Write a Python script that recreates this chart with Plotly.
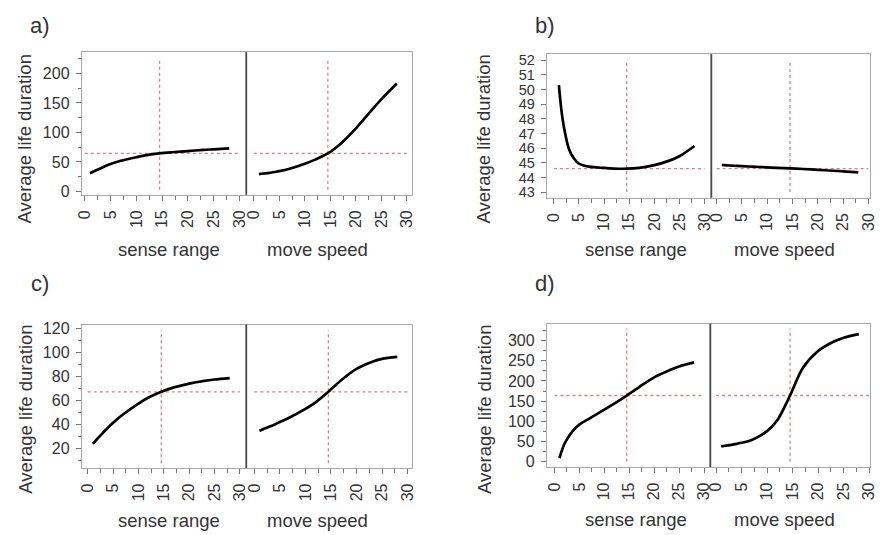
import plotly.graph_objects as go

# ---------------- data ----------------
x_grid = [1, 1.5, 2, 3, 4, 5, 7, 10, 12, 14.5, 17, 20, 23, 25, 28]

a_sense = [31, 33, 35, 39, 43, 46.5, 52, 58, 61.5, 64.5, 66.5, 68.5, 70.5, 71.5, 73]
a_move = [29.5, 30, 30.5, 31.5, 33, 34.5, 38.5, 47, 54, 64.5, 81, 107, 137, 156.5, 183]

b_sense = [50.3, 48.6, 47.45, 45.95, 45.3, 44.95, 44.74, 44.65, 44.61, 44.6, 44.66, 44.84, 45.15, 45.45, 46.15]
b_move = [44.85, 44.84, 44.83, 44.81, 44.79, 44.77, 44.74, 44.69, 44.66, 44.62, 44.58, 44.52, 44.46, 44.42, 44.35]

c_sense = [23.8, 26.2, 28.5, 33, 37.5, 41.5, 48.5, 57.5, 62.5, 67.3, 71, 74.2, 76.5, 77.6, 78.8]
c_move = [34.8, 35.6, 36.5, 38.2, 40, 42, 46, 53, 58.5, 67.3, 77, 86.5, 92.3, 94.8, 96.5]

d_sense = [9, 28, 44, 65, 81, 92, 107, 129, 144, 164, 185, 209, 226, 236, 246]
d_move = [38, 39, 40, 42, 44.5, 47, 54, 76, 103, 164, 232, 274, 297, 307, 316]

panel_labels = ["a)", "b)", "c)", "d)"]
factor_names = ["sense range", "move speed"]
y_title = "Average life duration"

center_x = 14.5
center_y = [64.5, 44.6, 67.3, 164]
vline_extent = [[3, 226], [43, 52], [7.6, 118.7], [0, 330]]
hline_extent = [0, 30]

y_ranges = [[-5.5, 236], [42.62, 52.42], [3.5, 123.6], [-13.1, 342.1]]
y_dtick = [50, 1, 20, 50]
y_minor = [25, None, 10, 25]
y_tick0 = [0, 43, 20, 0]
y_font = [16, 14.5, 16, 16]

x_ticks = [0, 5, 10, 15, 20, 25, 30]

# ---------------- layout geometry (pixels) ----------------
W, H = 884, 535
# (left, divider, right, top, bottom)
boxes = [
    (77, 244, 412, 49, 194),
    (549, 716, 877, 51, 197),
    (77, 244, 412, 326, 472),
    (549, 715, 877, 325, 471),
]
x_ranges = [
    ([-0.57, 31.34], [-1.45, 30.97]),
    ([-1.38, 31.38], [-1.03, 30.33]),
    ([-1.17, 31.30], [-1.55, 30.86]),
    ([-1.50, 31.29], [-1.10, 30.19]),
]
label_pos = [(34, 22), (547, 22), (35, 284), (547, 284)]
ytitle_pos = [(19, 137), (485, 137), (19, 412), (485, 412)]
xtitle_y = [250, 250, 525, 524]
xtitle_x = [(165, 316), (639, 790), (165, 316), (639, 790)]

FONT = "Liberation Sans, Arial, Helvetica, sans-serif"
TXT = "#333333"
FRAME = "#a8a8a8"
DIV = "#4a4a4a"
REF = "#dc7d8c"

fig = go.Figure()
series = [(a_sense, a_move), (b_sense, b_move), (c_sense, c_move), (d_sense, d_move)]

def px_x(p):
    return p / W

def px_y(p):
    return 1 - p / H

layout = {}
shapes = []
annotations = []

for i in range(4):
    left, div, right, top, bottom = boxes[i]
    for j in range(2):
        k = 2 * i + j + 1
        xa = "x" if k == 1 else f"x{k}"
        ya = "y" if k == 1 else f"y{k}"
        xkey = "xaxis" if k == 1 else f"xaxis{k}"
        ykey = "yaxis" if k == 1 else f"yaxis{k}"
        xd = [px_x(left), px_x(div)] if j == 0 else [px_x(div), px_x(right)]
        yd = [px_y(bottom), px_y(top)]

        # reference lines
        fig.add_trace(go.Scatter(x=hline_extent, y=[center_y[i], center_y[i]], mode="lines",
                                 line=dict(color=REF, width=1.3, dash="dot"),
                                 xaxis=xa, yaxis=ya, showlegend=False, hoverinfo="skip"))
        fig.add_trace(go.Scatter(x=[center_x, center_x], y=vline_extent[i], mode="lines",
                                 line=dict(color=REF, width=1.3, dash="dot"),
                                 xaxis=xa, yaxis=ya, showlegend=False, hoverinfo="skip"))
        # profile curve
        fig.add_trace(go.Scatter(x=x_grid, y=series[i][j], mode="lines",
                                 line=dict(color="black", width=2.7, shape="spline", smoothing=0.9),
                                 xaxis=xa, yaxis=ya, showlegend=False))

        layout[xkey] = dict(domain=xd, anchor=ya, range=x_ranges[i][j],
                            tickmode="array", tickvals=x_ticks, ticktext=[str(t) for t in x_ticks],
                            tickangle=-90, ticks="outside", ticklen=5, tickcolor="#777",
                            minor=dict(dtick=2.5, tick0=0, ticks="outside", ticklen=4, tickcolor="#777"),
                            showgrid=False, zeroline=False, showline=True, mirror=True,
                            linecolor=FRAME, linewidth=1.2, ticklabelstandoff=3,
                            tickfont=dict(family=FONT, size=16, color=TXT))
        if j == 0:
            yax = dict(domain=yd, anchor=xa, range=y_ranges[i], dtick=y_dtick[i], tick0=y_tick0[i],
                       ticks="outside", ticklen=5, tickcolor="#777",
                       showgrid=False, zeroline=False, showline=True, linecolor=FRAME, linewidth=1.2,
                       ticklabelstandoff=3,
                       tickfont=dict(family=FONT, size=y_font[i], color=TXT))
            if y_minor[i]:
                yax["minor"] = dict(dtick=y_minor[i], ticks="outside", ticklen=3, tickcolor="#777",
                                    tick0=y_tick0[i])
            layout[ykey] = yax
        else:
            layout[ykey] = dict(domain=yd, anchor=xa, range=y_ranges[i], showticklabels=False,
                                ticks="", showgrid=False, zeroline=False, showline=True, mirror=True,
                                linecolor=FRAME, linewidth=1.2)
            shapes.append(dict(type="line", xref=f"{xa} domain", yref=f"{ya} domain",
                               x0=0, x1=0, y0=0, y1=1, line=dict(color=DIV, width=1.5)))

    annotations.append(dict(text=panel_labels[i], x=px_x(label_pos[i][0]), y=px_y(label_pos[i][1]),
                            xref="paper", yref="paper", showarrow=False,
                            xanchor="center", yanchor="middle",
                            font=dict(family=FONT, size=22, color=TXT)))
    annotations.append(dict(text=y_title, x=px_x(ytitle_pos[i][0]), y=px_y(ytitle_pos[i][1]),
                            xref="paper", yref="paper", showarrow=False, textangle=-90,
                            xanchor="center", yanchor="middle",
                            font=dict(family=FONT, size=18.5, color=TXT)))
    for j in range(2):
        annotations.append(dict(text=factor_names[j], x=px_x(xtitle_x[i][j]), y=px_y(xtitle_y[i]),
                                xref="paper", yref="paper", showarrow=False,
                                xanchor="center", yanchor="middle",
                                font=dict(family=FONT, size=18.5, color=TXT)))

fig.update_layout(width=W, height=H, margin=dict(l=0, r=0, t=0, b=0),
                  paper_bgcolor="white", plot_bgcolor="white",
                  shapes=shapes, annotations=annotations, **layout)

fig.write_html("out.html", config={"displayModeBar": False},
               post_script="document.body.style.margin='0';document.body.style.overflow='hidden';")
